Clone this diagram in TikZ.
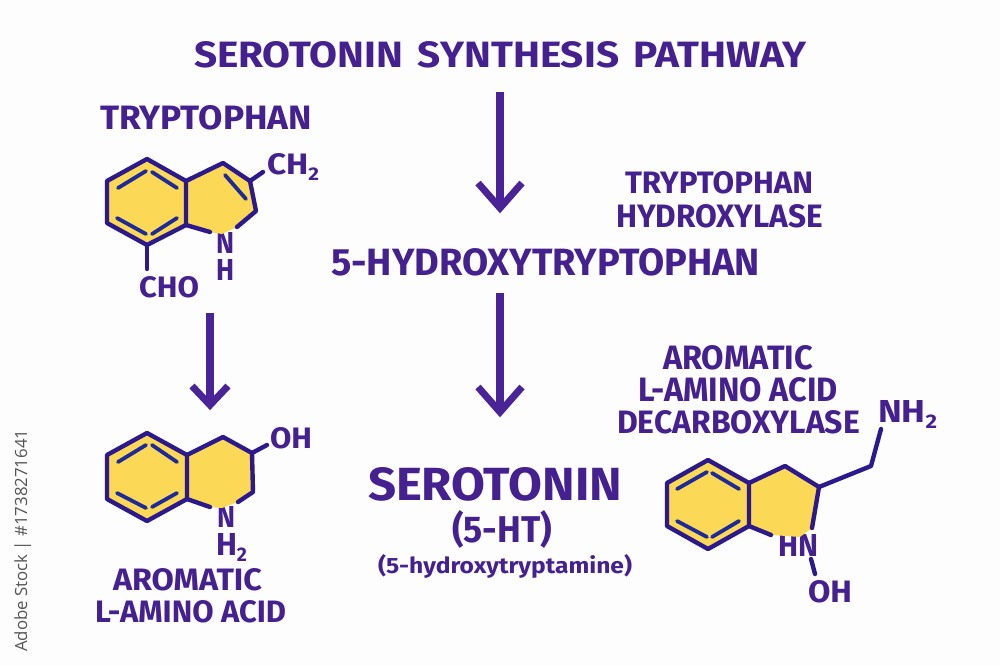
\documentclass[tikz,border=0pt]{standalone}
\usepackage{fontspec}
\usepackage{graphicx}
\setmainfont{Fira Sans}
\newfontfamily\sidefont{Open Sans}
\definecolor{inkp}{HTML}{45208F}
\definecolor{arrowp}{HTML}{4A2396}
\definecolor{bondp}{HTML}{2C1A8C}
\definecolor{dblb}{HTML}{1E2A9A}
\definecolor{ringy}{HTML}{FBD856}
\definecolor{paper}{HTML}{FDFDFD}
\definecolor{sidegray}{HTML}{555555}
\newcommand{\lab}[6]{%name,L,R,T,B,text
  \pgfmathsetlengthmacro{\labw}{#3-#2}\pgfmathsetlengthmacro{\labh}{#5-#4}%
  \node[labelbox] (#1) at (#2,#5) {\resizebox{\labw}{\labh}{\bfseries #6}};}
\newcommand{\subtwo}{\raisebox{-0.22em}{\scalebox{0.62}{2}}}
\tikzset{
  labelbox/.style={anchor=base west,inner sep=0pt,outer sep=0pt,text=inkp},
  bond/.style={draw=bondp,line width=4.4pt,line cap=round,line join=round},
  dbl/.style={draw=dblb,line width=3.8pt,line cap=round},
  ringfill/.style={fill=ringy,draw=none},
  shaft/.style={draw=arrowp,line width=8pt},
  barb/.style={draw=arrowp,line width=7pt,line join=miter,miter limit=10},
}
\begin{document}
\begin{tikzpicture}[x=1pt,y=-1pt]
\useasboundingbox (0,0) rectangle (1000,667);
\fill[paper] (0,0) rectangle (1000,667);

% ---- texts
\lab{title}{194}{806}{41}{67}{SEROTONIN\hspace{0.12em} SYNTHESIS\hspace{0.12em} PATHWAY}
\lab{trp}{100}{312}{105}{129}{TRYPTOPHAN}
\lab{tphtop}{625}{813}{171}{193}{TRYPTOPHAN}
\lab{tphbot}{616}{823}{204}{227}{HYDROXYLASE}
\lab{htp}{331}{760}{248}{275}{5-HYDROXYTRYPTOPHAN}
\lab{aaddA}{663}{813}{345}{369}{AROMATIC}
\lab{aaddB}{638}{838}{377}{401}{L-AMINO ACID}
\lab{aaddC}{617}{860}{410}{433}{DECARBOXYLASE}
\lab{sero}{368}{622}{467}{500}{SEROTONIN}
\lab{ht}{452}{552}{510}{542}{(5-HT)}
\lab{hta}{378}{632}{554}{573}{(5-hydroxytryptamine)}
\lab{aaA}{113}{262}{568}{590}{AROMATIC}
\lab{aaB}{95}{286}{600}{622}{L-AMINO ACID}
% atoms
\lab{ch2}{267}{319}{153}{174}{CH\subtwo}
\lab{cho}{139}{199}{276}{297}{CHO}
\lab{na}{216}{234}{232}{253}{N}
\lab{ha}{216}{234}{259}{280}{H}
\lab{oha}{270}{312}{427}{448}{OH}
\lab{nb}{217}{235}{506}{527}{N}
\lab{hb}{216}{247}{533}{555}{H\subtwo}
\lab{nh2}{878}{937}{400}{422}{NH\subtwo}
\lab{hnc}{778}{818}{534}{556}{HN}
\lab{ohc}{808}{852}{580}{602}{OH}

% ---- side line
\node[anchor=base west,inner sep=0pt,rotate=90,text=sidegray] (side) at (27,652)
  {\resizebox{222pt}{!}{\sidefont Adobe Stock | \#1738271641}};

% ---- molecule A
\fill[ringfill] (147,159)--(186,181)--(223,163)--(250,181)--(256,211)--(237,227)--(222,234)--(210,232)--(186,225)--(147,245)--(107,223)--(107,181)--cycle;
\coordinate (a1) at (147,159); \coordinate (a2) at (186,181); \coordinate (a3) at (186,225);
\coordinate (a4) at (147,245); \coordinate (a5) at (107,223); \coordinate (a6) at (107,181);
\coordinate (a7) at (223,163); \coordinate (a8) at (250,181); \coordinate (a9) at (256,211);
\coordinate (a10) at (237,227); \coordinate (a11) at (210,232);
\coordinate (a12) at (263,172); \coordinate (a13) at (147,269);
\draw[bond] (a1)--(a2)--(a3)--(a4)--(a5)--(a6)--cycle;
\draw[bond] (a2)--(a7)--(a8)--(a9)--(a10);
\draw[bond] (a3)--(a11);
\draw[bond] (a8)--(a12);
\draw[bond] (a4)--(a13);
\coordinate (ad1) at (118,188); \coordinate (ad2) at (146,171);
\coordinate (ad3) at (152,172); \coordinate (ad4) at (177,188);
\coordinate (ad5) at (117,218); \coordinate (ad6) at (146,234);
\coordinate (ad7) at (152,234); \coordinate (ad8) at (177,218);
\coordinate (ad9) at (225,175); \coordinate (ad10) at (246,199);
\draw[dbl] (ad1)--(ad2) (ad3)--(ad4) (ad5)--(ad6) (ad7)--(ad8) (ad9)--(ad10);

% ---- molecule B
\fill[ringfill] (147,433)--(187,455)--(223,437)--(252,453)--(253,492)--(238,502)--(222,508)--(210,507)--(187,499)--(147,521)--(107,499)--(107,455)--cycle;
\coordinate (b1) at (147,433); \coordinate (b2) at (187,455); \coordinate (b3) at (187,499);
\coordinate (b4) at (147,521); \coordinate (b5) at (107,499); \coordinate (b6) at (107,455);
\coordinate (b7) at (223,437); \coordinate (b8) at (252,453); \coordinate (b9) at (253,492);
\coordinate (b10) at (238,502); \coordinate (b11) at (210,507); \coordinate (b12) at (267,445);
\draw[bond] (b1)--(b2)--(b3)--(b4)--(b5)--(b6)--cycle;
\draw[bond] (b2)--(b7)--(b8)--(b9)--(b10);
\draw[bond] (b3)--(b11);
\draw[bond] (b8)--(b12);
\coordinate (bd1) at (118,462); \coordinate (bd2) at (146,445);
\coordinate (bd3) at (152,445); \coordinate (bd4) at (177,462);
\coordinate (bd5) at (117,493); \coordinate (bd6) at (146,508);
\coordinate (bd7) at (152,507); \coordinate (bd8) at (177,493);
\draw[dbl] (bd1)--(bd2) (bd3)--(bd4) (bd5)--(bd6) (bd7)--(bd8);

% ---- molecule C
\fill[ringfill] (708,460)--(749,483)--(785,466)--(819,487)--(812,528)--(800,537)--(772,535)--(749,526)--(708,549)--(667,526)--(667,483)--cycle;
\coordinate (c1) at (708,460); \coordinate (c2) at (749,483); \coordinate (c3) at (749,526);
\coordinate (c4) at (708,549); \coordinate (c5) at (667,526); \coordinate (c6) at (667,483);
\coordinate (c7) at (785,466); \coordinate (c8) at (819,487); \coordinate (c9) at (812,528);
\coordinate (c10) at (771,535); \coordinate (c11) at (871,466); \coordinate (c12) at (881,429);
\coordinate (c13) at (811,559); \coordinate (c14) at (815,574);
\draw[bond] (c1)--(c2)--(c3)--(c4)--(c5)--(c6)--cycle;
\draw[bond] (c2)--(c7)--(c8)--(c9);
\draw[bond] (c3)--(c10);
\draw[bond] (c8)--(c11)--(c12);
\draw[bond] (c13)--(c14);
\coordinate (cd1) at (677,489); \coordinate (cd2) at (707,472);
\coordinate (cd3) at (712,473); \coordinate (cd4) at (739,489);
\coordinate (cd5) at (677,521); \coordinate (cd6) at (707,537);
\coordinate (cd7) at (712,537); \coordinate (cd8) at (739,521);
\draw[dbl] (cd1)--(cd2) (cd3)--(cd4) (cd5)--(cd6) (cd7)--(cd8);

% ---- pathway arrows
\coordinate (s1) at (500,92);  \coordinate (t1) at (500,208);
\coordinate (w1l) at (478,183); \coordinate (w1r) at (522,183);
\coordinate (s2) at (500,293); \coordinate (t2) at (500,412);
\coordinate (w2l) at (478,387); \coordinate (w2r) at (522,387);
\coordinate (s3) at (210,313); \coordinate (t3) at (210,405);
\coordinate (w3l) at (192,386); \coordinate (w3r) at (228,386);
\draw[shaft] (s1)--(t1);
\draw[barb] (w1l)--(t1)--(w1r);
\draw[shaft] (s2)--(t2);
\draw[barb] (w2l)--(t2)--(w2r);
\draw[shaft] (s3)--(t3);
\draw[barb] (w3l)--(t3)--(w3r);
\end{tikzpicture}
\end{document}
